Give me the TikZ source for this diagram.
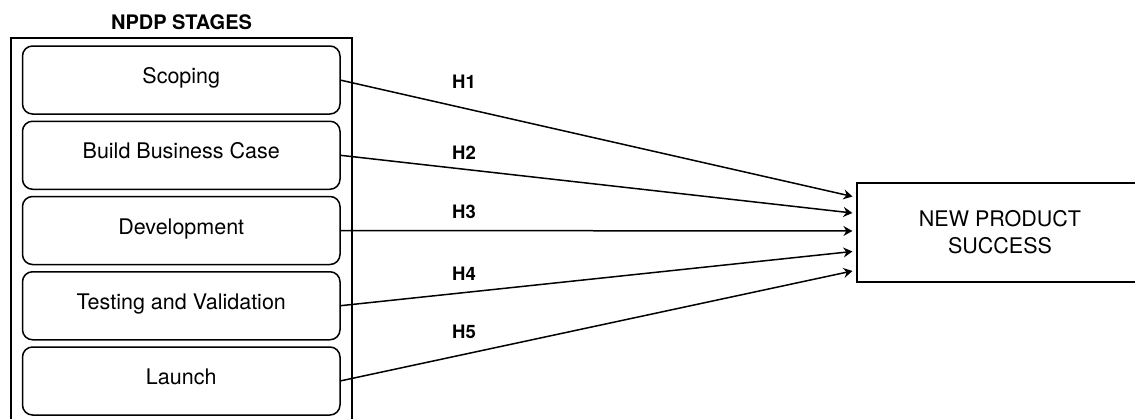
\documentclass[tikz,border=0pt]{standalone}
\usepackage{fontspec}
\setmainfont{TeX Gyre Heros}
\usetikzlibrary{arrows.meta, positioning}

\begin{document}
\begin{tikzpicture}[
    x=1pt, y=-1pt, >={Stealth[length=9pt, width=10pt, inset=3pt]},
    font=\fontsize{21.5}{27}\selectfont, node distance=7.25pt,
    stage/.style={rectangle, rounded corners=10pt, draw, line width=1.5pt, outer sep=0pt,
      minimum width=317.5pt, minimum height=68pt, text height=0.72em, text depth=0pt, inner sep=0pt},
    frame/.style={rectangle, draw, line width=1.5pt, outer sep=0pt, inner sep=0pt,
      minimum width=341pt, minimum height=384pt},
    outcome/.style={rectangle, draw, line width=1.5pt, outer sep=0pt, align=center,
      minimum width=286pt, minimum height=99pt},
    hyp/.style={font=\fontsize{18.5}{20}\selectfont\bfseries, text height=0.72em, text depth=0pt, inner sep=0pt},
    ar/.style={->, line width=1.5pt, shorten >=4.6pt}]
  \useasboundingbox (0,0) rectangle (1135,418);
  \node[frame] (stages) at (181.5,230) {};
  \node[hyp, font=\fontsize{20}{22}\selectfont\bfseries, above=8pt of stages] (title) {NPDP STAGES};
  \node[stage] (scoping) at (181.25,80) {Scoping};
  \node[stage, below=of scoping] (case) {Build Business Case};
  \node[stage, below=of case] (devel) {Development};
  \node[stage, below=of devel] (testing) {Testing and Validation};
  \node[stage, below=of testing] (launch) {Launch};
  \node[outcome] (success) at (1000,232.5) {NEW PRODUCT\\SUCCESS};
  \draw[ar] (scoping.east) -- ([yshift=35pt]success.west);
  \draw[ar] (case.east) -- ([yshift=19pt]success.west);
  \draw[ar] (devel.east) -- ([yshift=1.5pt]success.west);
  \draw[ar] (testing.east) -- ([yshift=-18.5pt]success.west);
  \draw[ar] (launch.east) -- ([yshift=-37.5pt]success.west);
  \node[hyp] (h1) at (464,85) {H1};
  \node[hyp] (h2) at (464,155.5) {H2};
  \node[hyp] (h3) at (464,215) {H3};
  \node[hyp] (h4) at (464,276.5) {H4};
  \node[hyp] (h5) at (464,335) {H5};
\end{tikzpicture}
\end{document}
